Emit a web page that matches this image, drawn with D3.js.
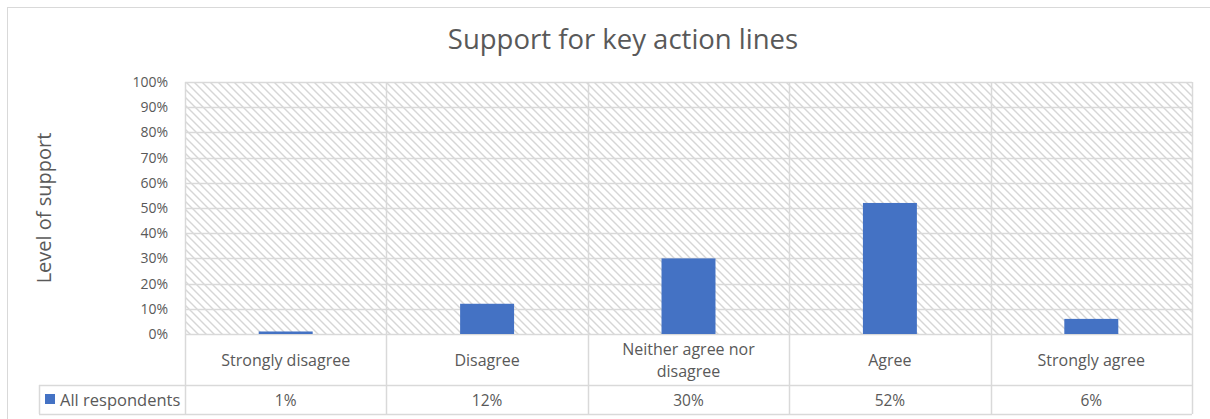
<!DOCTYPE html>
<html>
<head>
<meta charset="utf-8">
<script src="https://cdn.jsdelivr.net/npm/d3@7"></script>
<style>
  html, body { margin: 0; padding: 0; background: #fff; }
  svg { display: block; }
  text { font-family: "Open Sans", Lato, sans-serif; fill: #595959; }
</style>
</head>
<body>
<svg id="chart" width="1210" height="419"></svg>
<script>
const categories = ["Strongly disagree", "Disagree", "Neither agree nor disagree", "Agree", "Strongly agree"];
const categoryLines = [["Strongly disagree"], ["Disagree"], ["Neither agree nor", "disagree"], ["Agree"], ["Strongly agree"]];
const seriesName = "All respondents";
const values = [0.01, 0.12, 0.30, 0.52, 0.06];
const valueLabels = ["1%", "12%", "30%", "52%", "6%"];
const yTicks = [0, 0.1, 0.2, 0.3, 0.4, 0.5, 0.6, 0.7, 0.8, 0.9, 1.0];
const title = "Support for key action lines";
const yTitle = "Level of support";

const svg = d3.select("#chart");
const W = 1210, H = 419;
const plot = { left: 185, right: 1192, top: 82, bottom: 334 };
const row1Bottom = 385, row2Bottom = 414, legendLeft = 39;
const gridColor = "#d9d9d9";
const barColor = "#4472C4";

// outer chart border
svg.append("rect").attr("x", 7.5).attr("y", 7.5).attr("width", W + 10).attr("height", H + 10)
  .attr("fill", "#fff").attr("stroke", gridColor).attr("stroke-width", 1);

// hatch pattern
const defs = svg.append("defs");
const pat = defs.append("pattern").attr("id", "hatch").attr("patternUnits", "userSpaceOnUse")
  .attr("width", 8).attr("height", 8);
pat.append("rect").attr("width", 8).attr("height", 8).attr("fill", "#fff");
pat.append("path").attr("d", "M-2,-2 L10,10 M-2,6 L2,10 M6,-2 L10,2")
  .attr("stroke", "#d6d6d6").attr("stroke-width", 1.4);

const x = d3.scaleBand().domain(categories).range([plot.left, plot.right]).paddingInner(0).paddingOuter(0);
const y = d3.scaleLinear().domain([0, 1]).range([plot.bottom, plot.top]);
const barW = x.bandwidth() * 0.268;

// plot background
svg.append("rect").attr("x", plot.left).attr("y", plot.top)
  .attr("width", plot.right - plot.left).attr("height", plot.bottom - plot.top)
  .attr("fill", "url(#hatch)");

// horizontal gridlines
svg.append("g").selectAll("line").data(yTicks).join("line")
  .attr("x1", plot.left).attr("x2", plot.right)
  .attr("y1", d => Math.round(y(d)) + 0.5).attr("y2", d => Math.round(y(d)) + 0.5)
  .attr("stroke", gridColor).attr("stroke-width", 1.5);

// vertical dividers (through plot and table)
const edges = categories.map(c => x(c)).concat([plot.right]);
svg.append("g").selectAll("line").data(edges).join("line")
  .attr("x1", d => Math.round(d) + 0.5).attr("x2", d => Math.round(d) + 0.5)
  .attr("y1", plot.top).attr("y2", row2Bottom)
  .attr("stroke", gridColor).attr("stroke-width", 1.5);

// bars
svg.append("g").selectAll("rect").data(values).join("rect")
  .attr("x", (d, i) => x(categories[i]) + x.bandwidth() / 2 - barW / 2)
  .attr("width", barW)
  .attr("y", d => y(d))
  .attr("height", d => y(0) - y(d))
  .attr("fill", barColor);

// y axis labels
const yAxis = d3.axisLeft(y).tickValues(yTicks).tickFormat(d3.format(".0%")).tickSize(0).tickPadding(17);
const yg = svg.append("g").attr("transform", `translate(${plot.left},0)`).call(yAxis);
yg.select(".domain").remove();
yg.selectAll("text").attr("font-size", 14).attr("fill", "#595959")
  .style("font-family", "'Open Sans', Lato, sans-serif");

// table horizontal lines
svg.append("line").attr("x1", legendLeft).attr("x2", plot.right)
  .attr("y1", row1Bottom + 0.5).attr("y2", row1Bottom + 0.5).attr("stroke", gridColor).attr("stroke-width", 1.5);
svg.append("line").attr("x1", legendLeft).attr("x2", plot.right)
  .attr("y1", row2Bottom + 0.5).attr("y2", row2Bottom + 0.5).attr("stroke", gridColor).attr("stroke-width", 1.5);
svg.append("line").attr("x1", legendLeft + 0.5).attr("x2", legendLeft + 0.5)
  .attr("y1", row1Bottom).attr("y2", row2Bottom).attr("stroke", gridColor).attr("stroke-width", 1.5);

// category labels
const catG = svg.append("g");
categoryLines.forEach((lines, i) => {
  const cx = x(categories[i]) + x.bandwidth() / 2;
  const mid = (plot.bottom + row1Bottom) / 2 + 6;
  const lh = 22;
  lines.forEach((ln, j) => {
    catG.append("text").attr("x", cx).attr("y", mid + (j - (lines.length - 1) / 2) * lh)
      .attr("text-anchor", "middle").attr("font-size", 16).text(ln);
  });
});

// value row
svg.append("g").selectAll("text").data(valueLabels).join("text")
  .attr("x", (d, i) => x(categories[i]) + x.bandwidth() / 2)
  .attr("y", (row1Bottom + row2Bottom) / 2 + 6)
  .attr("text-anchor", "middle").attr("font-size", 15.5).text(d => d);

// legend key in table
svg.append("rect").attr("x", 45).attr("y", 394).attr("width", 10).attr("height", 10).attr("fill", barColor);
svg.append("text").attr("x", 60).attr("y", (row1Bottom + row2Bottom) / 2 + 6)
  .attr("font-size", 16.5).text(seriesName);

// title
svg.append("text").attr("x", 623).attr("y", 49).attr("text-anchor", "middle")
  .attr("font-size", 27.5).text(title);

// y axis title
svg.append("text").attr("transform", `translate(51,${(plot.top + plot.bottom) / 2}) rotate(-90)`)
  .attr("text-anchor", "middle").attr("font-size", 20).text(yTitle);
</script>
</body>
</html>
